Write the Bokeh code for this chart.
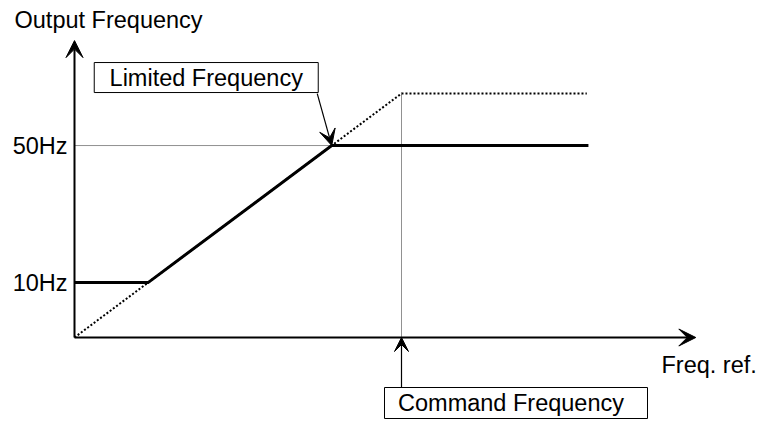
from bokeh.plotting import figure
from bokeh.models import Range1d, Arrow, VeeHead
from bokeh.embed import file_html
from bokeh.resources import INLINE
from bokeh.core.properties import value

# ---- data (schematic units: on the dotted line output = frequency reference) ----
low_limit = 13.5          # level drawn as "10Hz"
high_limit = 47.2         # level drawn as "50Hz"
command = 60              # command frequency (ref and unlimited output)
ref_end = 94.0            # end of the dotted (unlimited) curve
out_end = 94.3            # end of the limited output curve
x_axis_end = 114
y_axis_end = 73

limited_x = [0, low_limit, high_limit, out_end]
limited_y = [low_limit, low_limit, high_limit, high_limit]
unlimited_x = [0, command, ref_end]
unlimited_y = [0, command, command]
tick_vals = [low_limit, high_limit]
tick_labels = ["10Hz", "50Hz"]

# ---- layout ----
W, H = 761, 421
SX, SY = 5.45, 4.067      # px per unit
OX, OY = 74, 337          # origin in figure px (from left, from top)
FONT = value("Liberation Sans")
FS = "23.5px"

def dx(px):
    return px / SX

def dy(px):
    return px / SY

p = figure(width=W, height=H, output_backend="svg", toolbar_location=None,
           x_range=Range1d(-OX / SX, (W - OX) / SX),
           y_range=Range1d(-(H - OY) / SY, OY / SY),
           x_axis_type=None, y_axis_type=None, min_border=0)
p.outline_line_color = None
p.grid.visible = False
p.background_fill_color = "white"
p.border_fill_color = "white"

# axes with arrow heads
p.add_layout(Arrow(x_start=0, y_start=0, x_end=0, y_end=y_axis_end, line_width=2,
                   end=VeeHead(size=17, fill_color="black", line_color="black", line_width=1)))
p.add_layout(Arrow(x_start=0, y_start=0, x_end=x_axis_end, y_end=0, line_width=2,
                   end=VeeHead(size=17, fill_color="black", line_color="black", line_width=1)))

# guide lines
p.line([0, high_limit], [high_limit, high_limit], line_color="#222222", line_width=1, line_dash="1 1")
p.line([command, command], [0, command], line_color="#222222", line_width=1, line_dash="1 1")
p.line(unlimited_x, unlimited_y, line_color="black", line_width=2, line_dash="2 2")

# limited output
p.line(limited_x, limited_y, line_color="black", line_width=3, line_join="miter")

# tick labels
p.text(x=[-dx(7)] * 2, y=tick_vals, text=tick_labels, text_align="right",
       text_baseline="middle", text_font=FONT, text_font_size=FS, text_color="black")

# axis titles
p.text(x=[-dx(60)], y=[y_axis_end + dy(21)], text=["Output Frequency"], text_align="left",
       text_baseline="middle", text_font=FONT, text_font_size=FS, text_color="black")
p.text(x=[x_axis_end + dx(61)], y=[-dy(27.5)], text=["Freq. ref."], text_align="right",
       text_baseline="middle", text_font=FONT, text_font_size=FS, text_color="black")

# "Limited Frequency" callout
lb_l, lb_r = high_limit - dx(237.5), high_limit - dx(13.5)
lb_b, lb_t = high_limit + dy(53), high_limit + dy(83)
p.quad(left=[lb_l], right=[lb_r], bottom=[lb_b], top=[lb_t], fill_color="white",
       line_color="black", line_width=1)
p.text(x=[(lb_l + lb_r) / 2], y=[(lb_b + lb_t) / 2], text=["Limited Frequency"],
       text_align="center", text_baseline="middle", text_font=FONT, text_font_size=FS,
       text_color="black")
p.add_layout(Arrow(x_start=high_limit - dx(14.5), y_start=high_limit + dy(52),
                   x_end=high_limit, y_end=high_limit, line_width=1.2,
                   end=VeeHead(size=16, fill_color="black", line_color="black", line_width=1)))

# "Command Frequency" callout
cb_l, cb_r = command - dx(17), command + dx(246)
cb_t, cb_b = -dy(50), -dy(81)
p.quad(left=[cb_l], right=[cb_r], bottom=[cb_b], top=[cb_t], fill_color="white",
       line_color="black", line_width=1)
p.text(x=[(cb_l + cb_r) / 2 - dx(5)], y=[(cb_b + cb_t) / 2], text=["Command Frequency"],
       text_align="center", text_baseline="middle", text_font=FONT, text_font_size=FS,
       text_color="black")
p.add_layout(Arrow(x_start=command, y_start=cb_t, x_end=command, y_end=0, line_width=1.2,
                   end=VeeHead(size=14, fill_color="black", line_color="black", line_width=1)))

open("out.html", "w").write(file_html(p, INLINE))
